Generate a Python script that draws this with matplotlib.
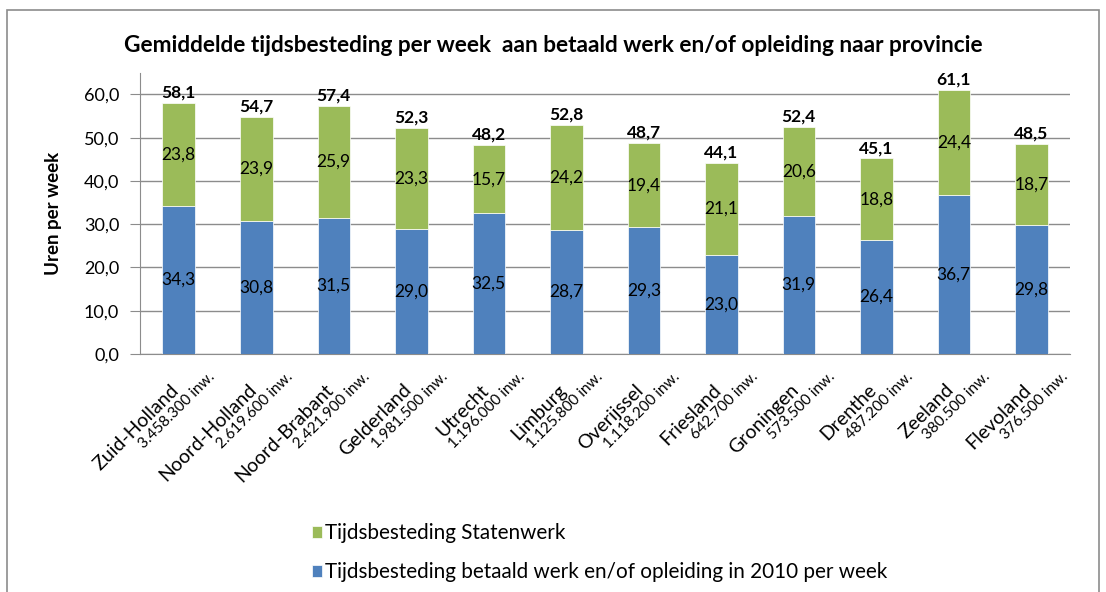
import matplotlib.pyplot as plt
from matplotlib.patches import Rectangle

plt.rcParams['font.family'] = ['Lato', 'DejaVu Sans']

provinces = ['Zuid-Holland', 'Noord-Holland', 'Noord-Brabant', 'Gelderland', 'Utrecht', 'Limburg',
             'Overijssel', 'Friesland', 'Groningen', 'Drenthe', 'Zeeland', 'Flevoland']
inwoners = ['3.458.300 inw.', '2.619.600 inw.', '2.421.900 inw.', '1.981.500 inw.', '1.196.000 inw.',
            '1.125.800 inw.', '1.118.200 inw.', '642.700 inw.', '573.500 inw.', '487.200 inw.',
            '380.500 inw.', '376.500 inw.']
betaald = [34.3, 30.8, 31.5, 29.0, 32.5, 28.7, 29.3, 23.0, 31.9, 26.4, 36.7, 29.8]
staten = [23.8, 23.9, 25.9, 23.3, 15.7, 24.2, 19.4, 21.1, 20.6, 18.8, 24.4, 18.7]
totaal = [58.1, 54.7, 57.4, 52.3, 48.2, 52.8, 48.7, 44.1, 52.4, 45.1, 61.1, 48.5]

blue = '#4F81BD'
green = '#9BBB59'
grid = '#8C8C8C'

fig = plt.figure(figsize=(11.06, 5.92), dpi=100)
ax = fig.add_axes([0.1266, 0.402, 0.9675 - 0.1266, 0.877 - 0.402])

# frame around chart
fig.patches.append(Rectangle((7 / 1106, -0.05), (1099 - 7) / 1106, 1 - 10 / 592 + 0.05,
                             transform=fig.transFigure, fill=False, edgecolor='#8C8C8C', lw=1.2))

x = list(range(len(provinces)))
w = 0.42
b1 = ax.bar(x, betaald, w, color=blue, edgecolor='white', lw=0.5, zorder=3,
            label='Tijdsbesteding betaald werk en/of opleiding in 2010 per week')
b2 = ax.bar(x, staten, w, bottom=betaald, color=green, edgecolor='white', lw=0.5, zorder=3,
            label='Tijdsbesteding Statenwerk')

fmt = lambda v: f'{v:.1f}'.replace('.', ',')
for i in x:
    ax.text(i, betaald[i] / 2, fmt(betaald[i]), ha='center', va='center', fontsize=12.5, zorder=4)
    ax.text(i, betaald[i] + staten[i] / 2, fmt(staten[i]), ha='center', va='center', fontsize=12.5, zorder=4)
    ax.text(i, totaal[i] + 0.6, fmt(totaal[i]), ha='center', va='bottom', fontsize=12.5,
            fontweight='bold', zorder=4)

ax.set_xlim(-0.5, 11.5)
ax.set_ylim(0, 65)
ax.set_yticks(range(0, 61, 10))
ax.set_yticklabels([fmt(v) for v in range(0, 61, 10)], fontsize=13)
ax.yaxis.grid(True, color=grid, lw=1, zorder=0)
ax.set_axisbelow(True)
for s in ['top', 'right']:
    ax.spines[s].set_visible(False)
for s in ['left', 'bottom']:
    ax.spines[s].set_color(grid)
ax.tick_params(axis='y', length=7, color=grid, pad=8)
ax.set_xticks(x)
ax.set_xticklabels([])
ax.tick_params(axis='x', length=0)
ax.set_ylabel('Uren per week', fontsize=13.5, fontweight='bold', labelpad=16)

# province name and population, both rotated 45 degrees, anchored at baseline end
for i in x:
    ax.annotate(provinces[i], xy=(i, 0), xycoords=('data', 'axes fraction'),
                xytext=(1, -37), textcoords='offset pixels', ha='right', va='baseline',
                rotation=45, rotation_mode='anchor', fontsize=14)
    ax.annotate(inwoners[i], xy=(i, 0), xycoords=('data', 'axes fraction'),
                xytext=(37, -23), textcoords='offset pixels', ha='right', va='baseline',
                rotation=45, rotation_mode='anchor', fontsize=11)

fig.text(0.5, 1 - 45 / 592, 'Gemiddelde tijdsbesteding per week  aan betaald werk en/of opleiding naar provincie',
         ha='center', va='center', fontsize=16.3, fontweight='bold')

handles = [b2, b1]
fig.legend(handles, [h.get_label() for h in handles], loc='upper left',
           bbox_to_anchor=(312 / 1106, 1 - 523 / 592), frameon=False, fontsize=14.9,
           borderpad=0, borderaxespad=0, handlelength=0.5, handleheight=0.5,
           handletextpad=0.15, labelspacing=0.92)

fig.savefig('out.png', dpi=100)
